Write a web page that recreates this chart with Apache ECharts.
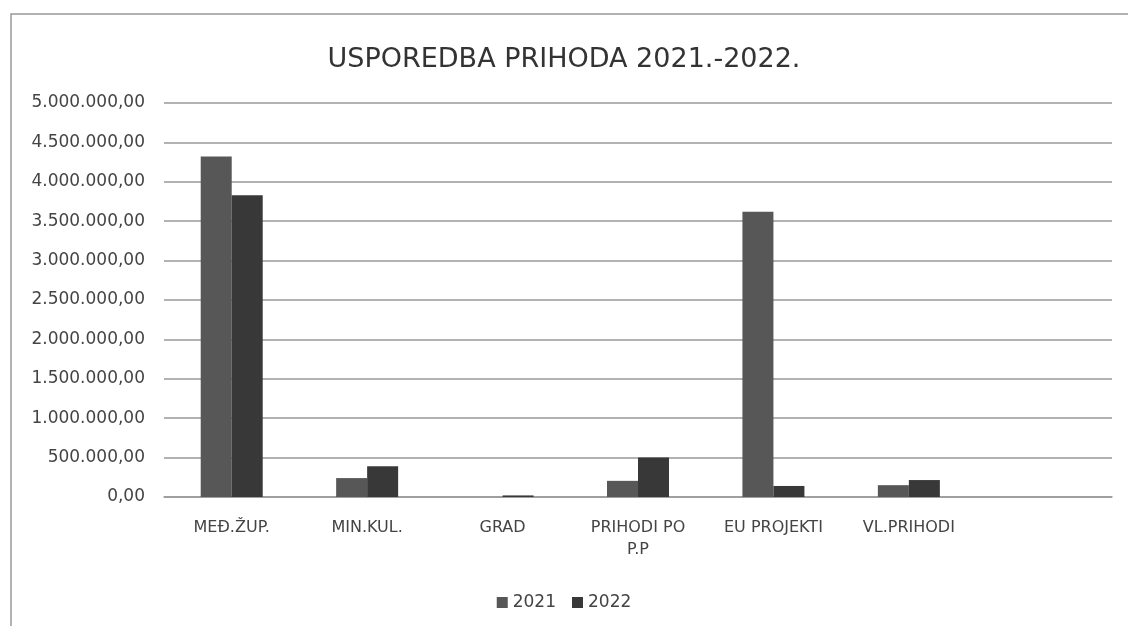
<!DOCTYPE html>
<html>
<head>
<meta charset="utf-8">
<script src="https://cdn.jsdelivr.net/npm/echarts@6/dist/echarts.min.js"></script>
<style>html,body{margin:0;padding:0;background:#fff;}#c{width:1128px;height:626px;}</style>
</head>
<body>
<div id="c"></div>
<script>
const categories = ['MEĐ.ŽUP.', 'MIN.KUL.', 'GRAD', 'PRIHODI PO P.P', 'EU PROJEKTI', 'VL.PRIHODI', ''];
const values2021 = [4320000, 240000, 0, 205000, 3620000, 150000, null];
const values2022 = [3830000, 390000, 20000, 500000, 140000, 215000, null];
const seriesNames = ['2021', '2022'];
const titleText = 'USPOREDBA PRIHODA 2021.-2022.';

function fmtHr(v) {
  const s = Math.round(v).toString().replace(/\B(?=(\d{3})+(?!\d))/g, '.');
  return s + ',00';
}
function wrap(v) {
  const words = v.split(' ');
  const lines = [];
  let cur = '';
  words.forEach(w => {
    const t = cur ? cur + ' ' + w : w;
    if (t.length > 11 && cur) { lines.push(cur); cur = w; } else cur = t;
  });
  if (cur) lines.push(cur);
  return lines.join('\n');
}

const font = 'DejaVu Sans';
const chart = echarts.init(document.getElementById('c'));
chart.setOption({
  animation: false,
  backgroundColor: '#fff',
  title: {
    text: titleText, left: 'center', top: 41,
    textStyle: { fontFamily: font, fontSize: 27, fontWeight: 'normal', color: '#333' }
  },
  graphic: [{
    type: 'rect', shape: { x: 11, y: 14, width: 1300, height: 800 },
    style: { fill: 'none', stroke: '#999', lineWidth: 1.5 }, silent: true
  }],
  legend: {
    data: seriesNames, bottom: 10, left: 'center', itemWidth: 11, itemHeight: 11, itemGap: 16,
    icon: 'rect', textStyle: { fontFamily: font, fontSize: 17, color: '#444' }
  },
  grid: { left: 164, right: 16, top: 103, bottom: 129 },
  xAxis: {
    type: 'category', data: categories,
    axisLine: { lineStyle: { color: '#999', width: 1.5 } },
    axisTick: { show: false },
    axisLabel: { fontFamily: font, fontSize: 16, color: '#444', margin: 20, lineHeight: 22, formatter: wrap, interval: 0 }
  },
  yAxis: {
    type: 'value', min: 0, max: 5000000, interval: 500000,
    axisLine: { show: false }, axisTick: { show: false },
    splitLine: { lineStyle: { color: '#999', width: 1.5 } },
    axisLabel: { fontFamily: font, fontSize: 17, color: '#444', margin: 19, formatter: fmtHr }
  },
  series: [
    { name: seriesNames[0], type: 'bar', data: values2021, barWidth: 31, barGap: '0%', itemStyle: { color: '#575757' } },
    { name: seriesNames[1], type: 'bar', data: values2022, barWidth: 31, barGap: '0%', itemStyle: { color: '#383838' } }
  ]
});
</script>
</body>
</html>
